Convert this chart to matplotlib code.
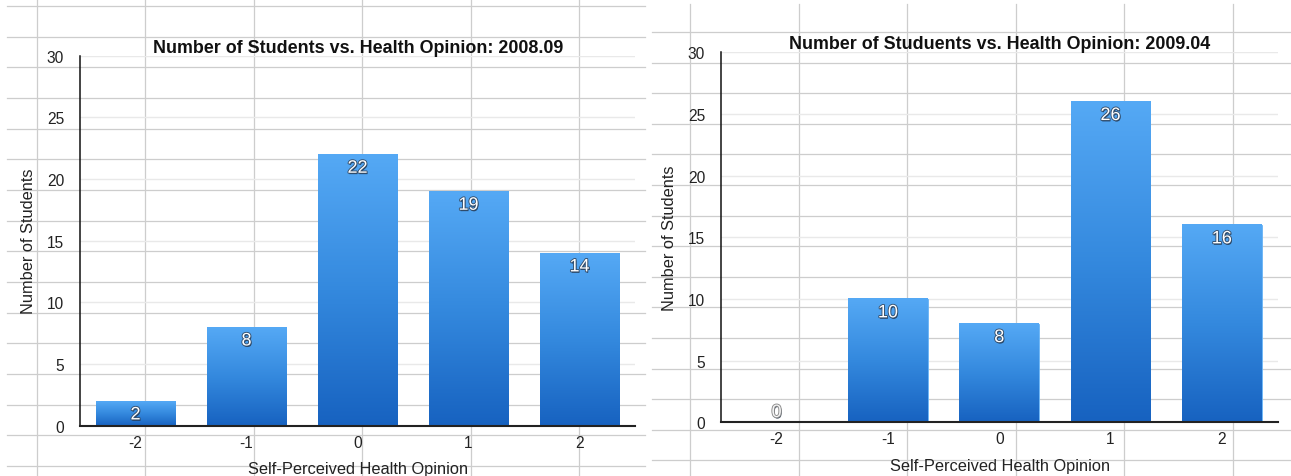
import numpy as np
import matplotlib
matplotlib.use("Agg")
import matplotlib.pyplot as plt
from matplotlib.lines import Line2D
import matplotlib.patheffects as pe
from matplotlib.colors import LinearSegmentedColormap

plt.rcParams['font.family'] = ['Liberation Sans', 'DejaVu Sans']

# ---- data ----
categories = [-2, -1, 0, 1, 2]
tick_labels = ["-2", "-1", "0", "1", "2"]
counts_2008 = [2, 8, 22, 19, 14]
counts_2009 = [0, 10, 8, 26, 16]
title_2008 = "Number of Students vs. Health Opinion: 2008.09"
title_2009 = "Number of Studuents vs. Health Opinion: 2009.04"
xlabel = "Self-Perceived Health Opinion"
ylabel = "Number of Students"

W, H = 1291, 477
fig = plt.figure(figsize=(W / 100, H / 100), dpi=100)
fig.patch.set_facecolor("white")


def fx(px):
    return px / W


def fy(py):
    return 1 - py / H


# ---- spreadsheet background grid (decoration) ----
grid_col = "#cdcdcd"
for y in 7 + 30.66 * np.arange(16):
    fig.add_artist(Line2D([fx(7), fx(645)], [fy(y), fy(y)], color=grid_col, lw=0.9, zorder=0))
for x in 36.5 + 108.5 * np.arange(6):
    fig.add_artist(Line2D([fx(x), fx(x)], [fy(0), fy(477)], color=grid_col, lw=0.9, zorder=0))
for y in 33 + 30.6 * np.arange(15):
    fig.add_artist(Line2D([fx(652), fx(1291)], [fy(y), fy(y)], color=grid_col, lw=0.9, zorder=0))
for x in 690 + 108.5 * np.arange(6):
    fig.add_artist(Line2D([fx(x), fx(x)], [fy(5), fy(477)], color=grid_col, lw=0.9, zorder=0))

cmap = LinearSegmentedColormap.from_list("bluegrad", ["#1762c0", "#3489de", "#55a9f5"])


def panel(rect_px, values, title):
    x0, y0, x1, y1 = rect_px
    ax = fig.add_axes([fx(x0), fy(y1), fx(x1 - x0), (y1 - y0) / H])
    ax.patch.set_alpha(0)
    xs = np.arange(len(categories))
    bars = ax.bar(xs, values, width=0.716, color="#3a8fe0", edgecolor="#6ab6f8",
                  linewidth=0.6, zorder=2)
    grad = np.linspace(0, 1, 256).reshape(-1, 1)
    for b, v in zip(bars, values):
        if v <= 0:
            continue
        ax.imshow(grad, cmap=cmap, origin="lower", aspect="auto",
                  extent=[b.get_x(), b.get_x() + b.get_width(), 0, v],
                  zorder=2.5, clip_path=b, clip_on=True)
    ax.set_xlim(-0.5, len(categories) - 0.5)
    ax.set_ylim(0, 30)
    ax.set_yticks([0, 5, 10, 15, 20, 25, 30])
    ax.set_xticks(xs)
    ax.set_xticklabels(tick_labels)
    ax.tick_params(axis="both", length=0, labelsize=11.2, colors="#222222")
    ax.tick_params(axis="y", pad=11.5)
    ax.tick_params(axis="x", pad=6.5)
    ax.yaxis.grid(True, color="#e9e9e9", lw=1.0, zorder=1)
    ax.set_axisbelow(True)
    for s in ["top", "right"]:
        ax.spines[s].set_visible(False)
    ax.spines["left"].set_color("#111111")
    ax.spines["left"].set_linewidth(1.1)
    ax.spines["bottom"].set_color("#222222")
    ax.spines["bottom"].set_linewidth(1.5)
    ax.spines["left"].set_zorder(3)
    ax.spines["bottom"].set_zorder(3)

    for xi, v in zip(xs, values):
        off = -10 if v > 0 else 7
        ax.annotate(str(v), (xi, v), xytext=(0, off), textcoords="offset points",
                    ha="center", va="center", fontsize=13,
                    color="white" if v > 0 else "#f4f4f4", zorder=5,
                    path_effects=[pe.withSimplePatchShadow(offset=(0.6, -1.0), shadow_rgbFace="#1b2a3f", alpha=0.8),
                                  pe.withStroke(linewidth=1.3, foreground="#35506e" if v > 0 else "#8a8a8a")])

    ax.set_xlabel(xlabel, fontsize=11.8, color="#222222")
    ax.set_ylabel(ylabel, fontsize=11.8, color="#222222")
    ax.set_title(title, fontsize=12.9, fontweight="bold", color="#111111")
    return ax


axL = panel((80, 56.7, 635, 426.7), counts_2008, title_2008)
axR = panel((721, 53.3, 1277.5, 423.3), counts_2009, title_2009)

for ax, (x0, y0, x1, y1), xl_y, yl, ttl, xc in [
    (axL, (80, 56.7, 635, 426.7), 470, (29, 241), 28, 358),
    (axR, (721, 53.3, 1277.5, 423.3), 467, (670, 238), 26, 1000),
]:
    w = x1 - x0
    h = y1 - y0
    ax.xaxis.label.set_verticalalignment("center")
    ax.xaxis.set_label_coords((xc - x0) / w, (y1 - xl_y) / h)
    ax.yaxis.label.set_horizontalalignment("center")
    ax.yaxis.label.set_verticalalignment("center")
    ax.yaxis.set_label_coords((yl[0] - x0) / w, (y1 - yl[1]) / h)
    ax.title.set_verticalalignment("center")
    ax.title.set_position(((xc - x0) / w, (y1 - ttl) / h))

fig.savefig("out.png", dpi=100, facecolor="white")
